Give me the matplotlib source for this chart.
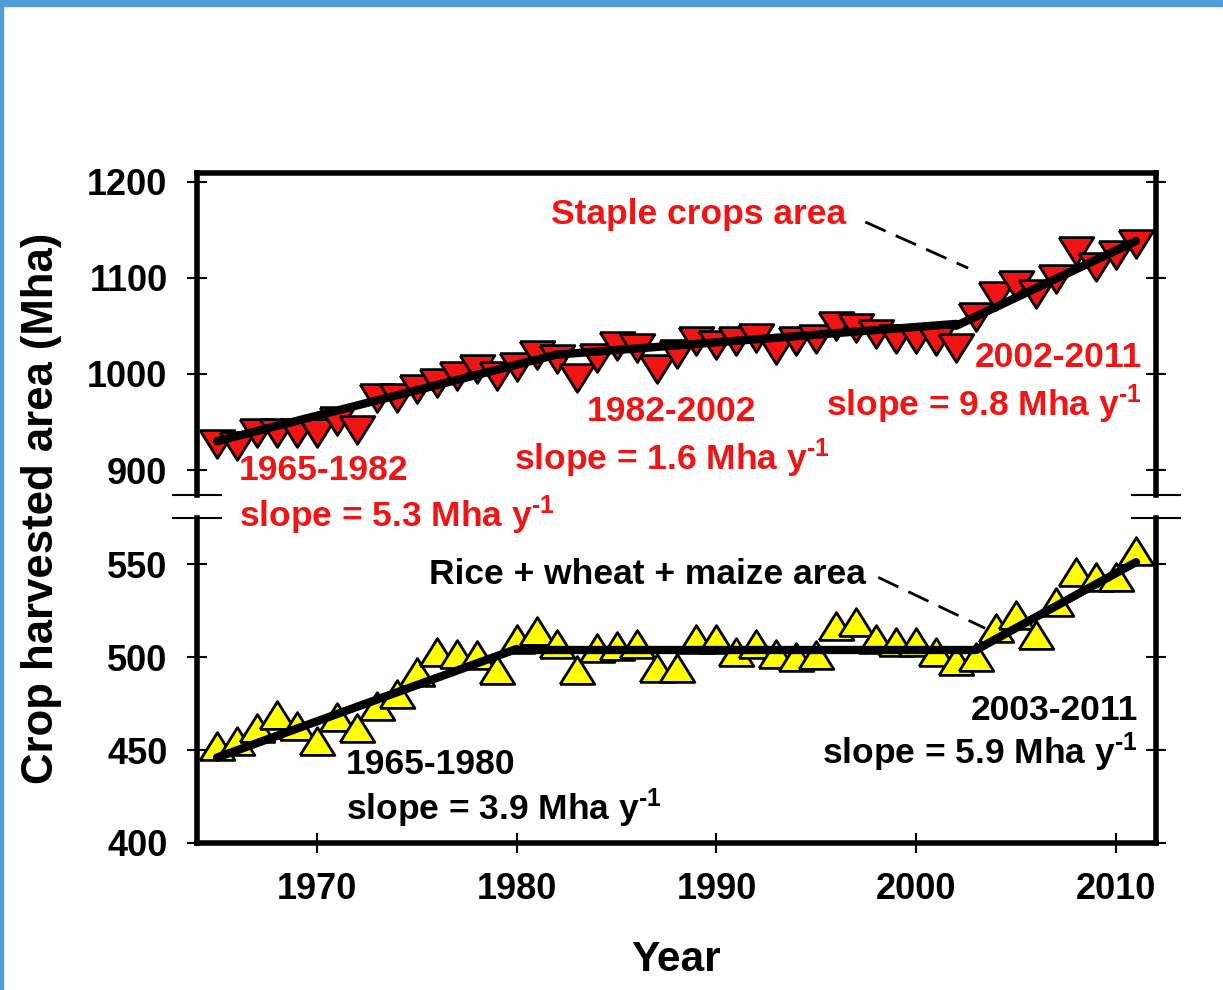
import numpy as np
import matplotlib
matplotlib.use("Agg")
import matplotlib.pyplot as plt
from matplotlib.patches import Rectangle

plt.rcParams['font.family'] = ['Liberation Sans', 'DejaVu Sans']
plt.rcParams['font.weight'] = 'bold'
plt.rcParams['mathtext.fontset'] = 'custom'
plt.rcParams['mathtext.rm'] = 'Liberation Sans:bold'
plt.rcParams['mathtext.bf'] = 'Liberation Sans:bold'
plt.rcParams['mathtext.it'] = 'Liberation Sans:bold'

"""data"""

years = np.arange(1965, 2012)

# total harvested area of staple crops (Mha)
staple_area = [927, 925, 939, 939, 939, 939, 951, 942, 975, 975,
               984, 990, 998, 1005, 998, 1007, 1020, 1015, 996, 1017,
               1029, 1027, 1005, 1021, 1034, 1030, 1034, 1037, 1025, 1034,
               1036, 1050, 1048, 1041, 1036, 1036, 1034, 1027, 1059, 1081,
               1092, 1083, 1099, 1128, 1111, 1124, 1135]

# rice + wheat + maize harvested area (Mha)
rwm_area = [452, 455, 462, 469, 463, 455, 468, 462, 474, 480,
            492, 503, 502, 501, 493, 510, 514, 507, 493, 505,
            506, 507, 494, 494, 510, 510, 503, 507, 502, 500,
            501, 517, 519, 510, 508, 508, 503, 498, 500, 516,
            523, 512, 530, 546, 543, 543, 557]

# piecewise trends: (start year, end year, value at start, slope in Mha/yr)
staple_fits = [(1965, 1982, 930, 5.3), (1982, 2002, 1020, 1.6), (2002, 2011, 1050, 9.8)]
rwm_fits = [(1965, 1980, 446, 3.9), (1980, 2003, 504, 0.0), (2003, 2011, 504, 5.9)]

RED = '#F01414'
YELLOW = '#FFFF00'

tri_down = [(-1, 0.8), (1, 0.8), (0, -0.8), (-1, 0.8)]
tri_up = [(-1, -0.8), (1, -0.8), (0, 0.8), (-1, -0.8)]

"""figure"""

fig = plt.figure(figsize=(12.23, 9.9), dpi=100)
ax_top = fig.add_axes([0.1611, 0.5, 0.7841, 0.3253])
ax_bot = fig.add_axes([0.1611, 0.1485, 0.7841, 0.3283])

for ax in (ax_top, ax_bot):
    ax.patch.set_alpha(0)
    ax.set_xlim(1964, 2012)
    for s in ax.spines.values():
        s.set_linewidth(4)
    ax.tick_params(axis='y', direction='inout', length=14.4, width=1.5,
                   left=True, right=True, labelsize=26, pad=14)
    ax.tick_params(axis='x', direction='inout', length=14.4, width=1.5,
                   top=False, labelsize=26, pad=14)
    ax.set_xticks([1970, 1980, 1990, 2000, 2010])

ax_top.spines['bottom'].set_visible(False)
ax_top.tick_params(axis='x', bottom=False, labelbottom=False)
ax_bot.spines['top'].set_visible(False)

ax_top.set_ylim(874, 1209)
ax_top.set_yticks([900, 1000, 1100, 1200])
ax_bot.set_ylim(400, 575)
ax_bot.set_yticks([400, 450, 500, 550])

# axis break marks
for x0 in (-0.025, 0.975):
    ax_top.plot([x0, x0 + 0.05], [0, 0], transform=ax_top.transAxes,
                color='k', lw=1.5, clip_on=False)
    ax_bot.plot([x0, x0 + 0.05], [1, 1], transform=ax_bot.transAxes,
                color='k', lw=1.5, clip_on=False)

# data points
ax_top.plot(years, staple_area, linestyle='none', marker=tri_down, ms=25,
            mfc=RED, mec='k', mew=2, zorder=3)
ax_bot.plot(years, rwm_area, linestyle='none', marker=tri_up, ms=25,
            mfc=YELLOW, mec='k', mew=2, zorder=3)

# trend lines
for ax, fits in ((ax_top, staple_fits), (ax_bot, rwm_fits)):
    for x0, x1, y0, k in fits:
        ax.plot([x0, x1], [y0, y0 + k * (x1 - x0)], color='k', lw=6,
                solid_capstyle='round', solid_joinstyle='round', zorder=4)

# leader lines
ax_top.plot([1997.45, 2002.6], [1158, 1110], color='k', lw=2,
            dashes=(8, 4), zorder=5)
ax_bot.plot([1998.1, 2003.45], [543, 515.6], color='k', lw=2,
            dashes=(8, 4), zorder=5)

fs = 25.5
sup = r'$^{\text{-1}}$'
ax_top.text(1996.5, 1165.6, 'Staple crops area', color=RED, fontsize=fs,
            ha='right', va='center')
ax_top.text(1966.1, 900, '1965-1982', color=RED, fontsize=fs, ha='left', va='center')
ax_top.text(1966.1, 853, 'slope = 5.3 Mha y' + sup, color=RED, fontsize=fs,
            ha='left', va='center')
ax_top.text(1987.75, 960.4, '1982-2002', color=RED, fontsize=fs, ha='center', va='center')
ax_top.text(1987.75, 912.5, 'slope = 1.6 Mha y' + sup, color=RED, fontsize=fs,
            ha='center', va='center')
ax_top.text(2011.3, 1016.7, '2002-2011', color=RED, fontsize=fs, ha='right', va='center')
ax_top.text(2011.3, 968.75, 'slope = 9.8 Mha y' + sup, color=RED, fontsize=fs,
            ha='right', va='center')

ax_bot.text(1997.5, 544.6, 'Rice + wheat + maize area', color='k', fontsize=fs,
            ha='right', va='center')
ax_bot.text(1971.45, 442, '1965-1980', color='k', fontsize=fs, ha='left', va='center')
ax_bot.text(1971.45, 418.8, 'slope = 3.9 Mha y' + sup, color='k', fontsize=fs,
            ha='left', va='center')
ax_bot.text(2011.1, 471.5, '2003-2011', color='k', fontsize=fs, ha='right', va='center')
ax_bot.text(2011.1, 448.9, 'slope = 5.9 Mha y' + sup, color='k', fontsize=fs,
            ha='right', va='center')

fig.text(42 / 1223, 1 - 508 / 990, 'Crop harvested area (Mha)', rotation=90,
         fontsize=31.5, ha='center', va='center')
fig.text(676 / 1223, 1 - 960 / 990, 'Year', fontsize=30.5, ha='center', va='center')

# blue frame on top and left edge
fig.patches.append(Rectangle((0, 1 - 6 / 990), 1, 6 / 990, transform=fig.transFigure,
                             color='#4F9FD6', zorder=10))
fig.patches.append(Rectangle((0, 0), 3 / 1223, 1, transform=fig.transFigure,
                             color='#4F9FD6', zorder=10))

fig.savefig('out.png', dpi=100)
